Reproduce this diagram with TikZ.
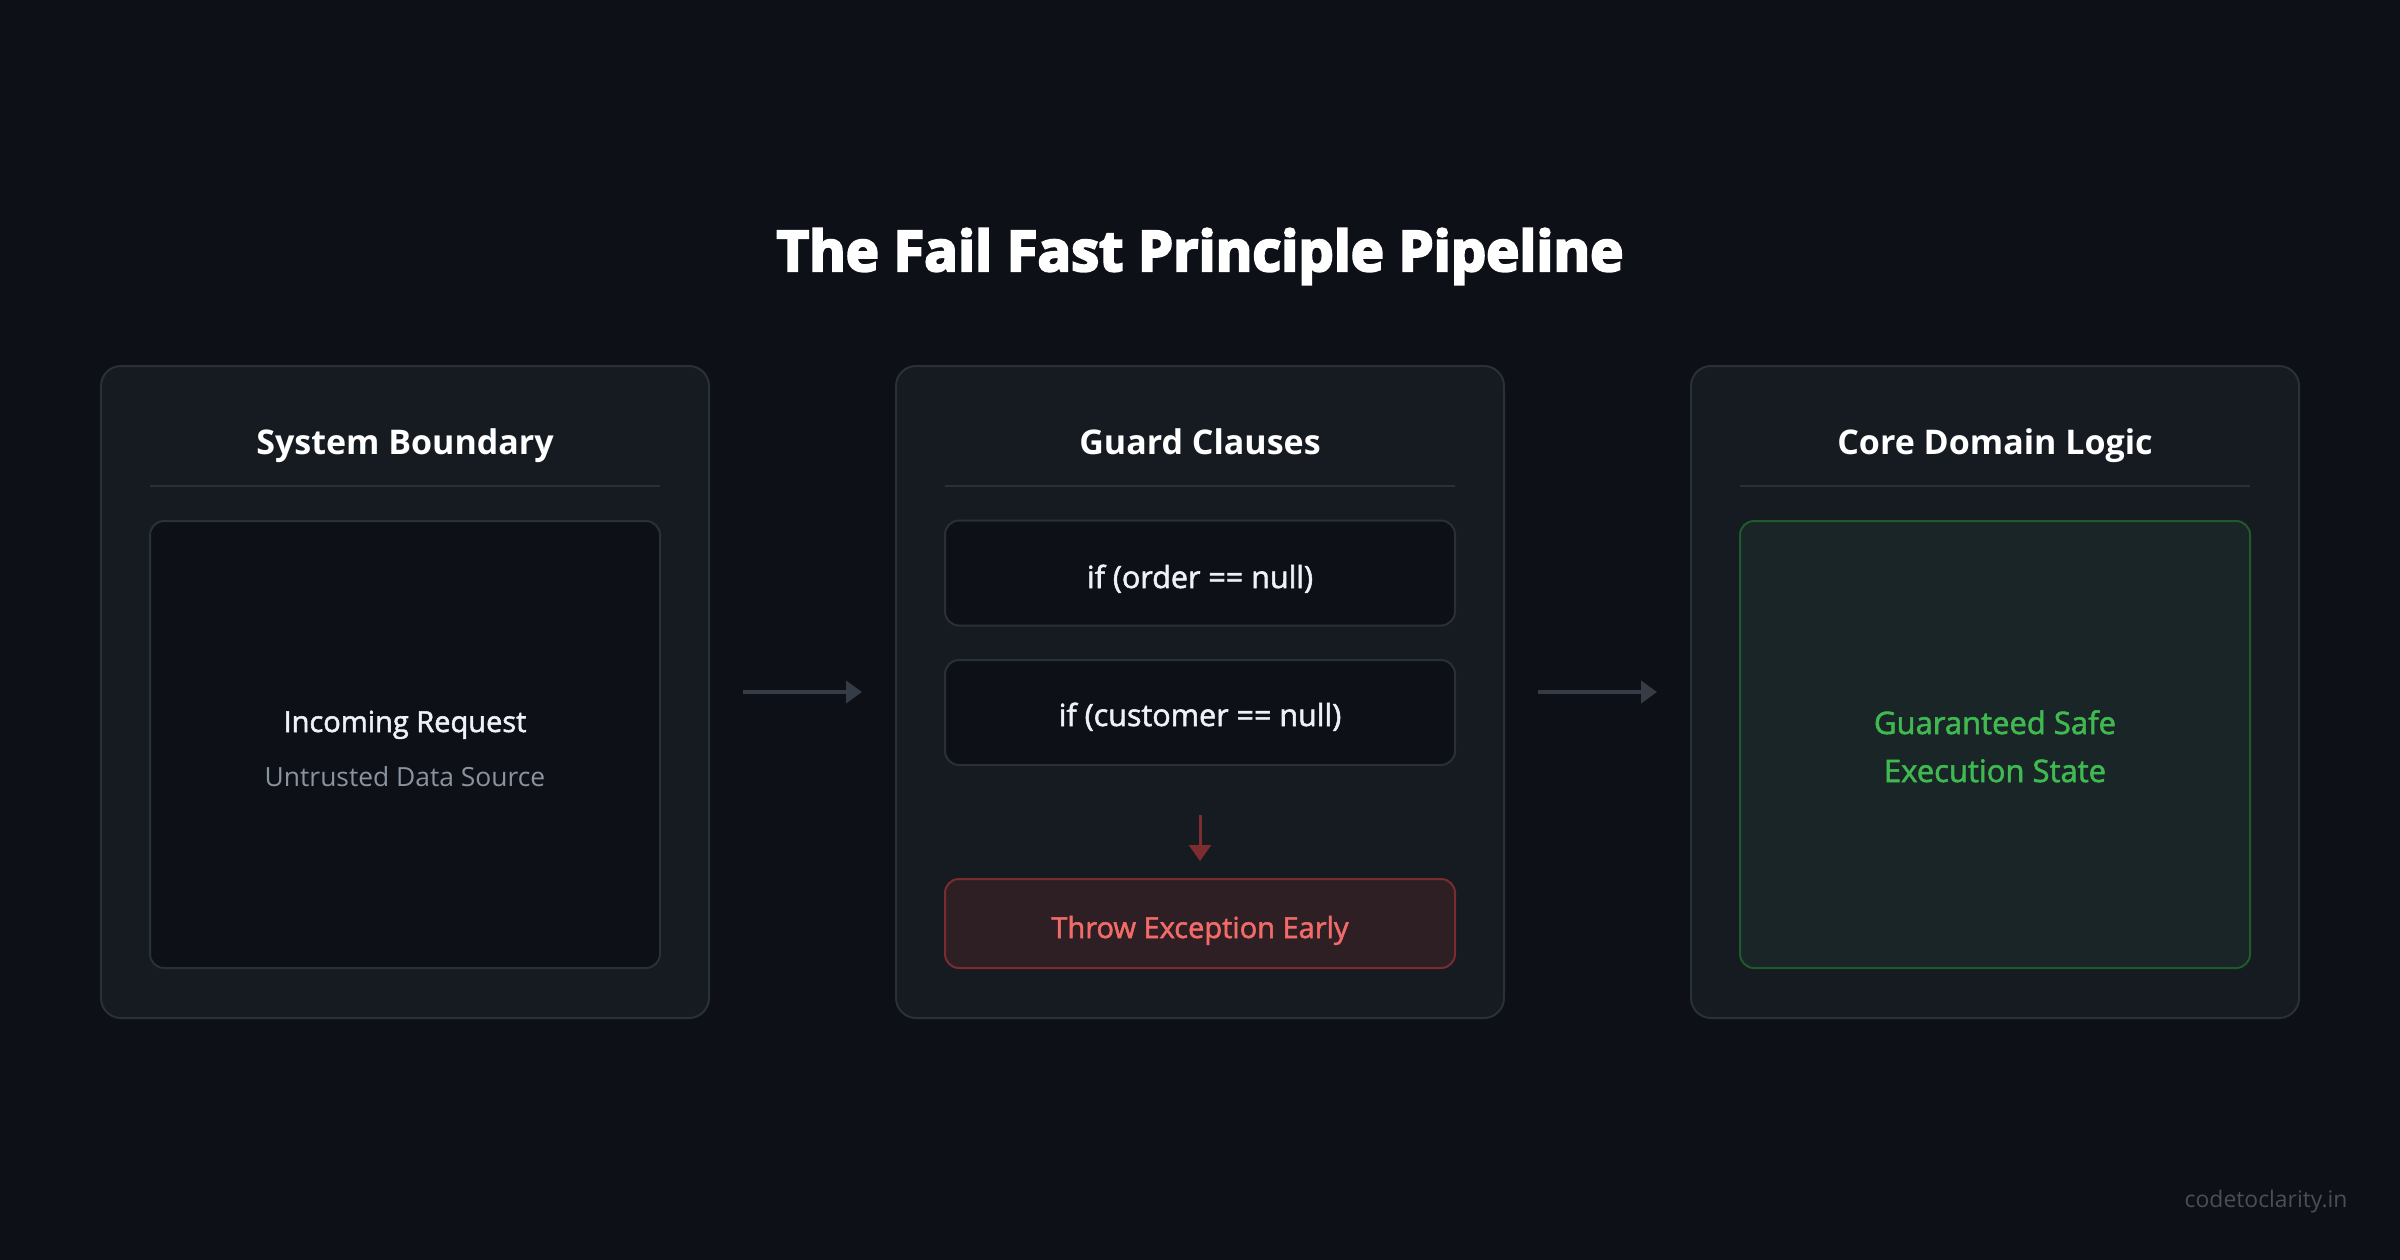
\documentclass[tikz,border=0pt]{standalone}
\usepackage{fontspec}
\setmainfont{Open Sans}
\newfontfamily\heavyfont[FakeBold=4]{Open Sans}
\newfontfamily\semifont[FakeBold=1.8]{Open Sans}
\usetikzlibrary{arrows.meta}

\definecolor{bgdark}{HTML}{0D1117}
\definecolor{panelfill}{HTML}{161B22}
\definecolor{panelline}{HTML}{2A3038}
\definecolor{boxfill}{HTML}{0D1017}
\definecolor{textlight}{HTML}{EEF2F6}
\definecolor{subgray}{HTML}{8B949E}
\definecolor{arrowgray}{HTML}{363C45}
\definecolor{failtext}{HTML}{F26B68}
\definecolor{failfill}{HTML}{2E1F25}
\definecolor{failline}{HTML}{7A2C2E}
\definecolor{failarrow}{HTML}{7D2D2D}
\definecolor{safefill}{HTML}{1A2528}
\definecolor{safeline}{HTML}{1F5A2C}
\definecolor{safetext}{HTML}{3FB950}
\definecolor{marktext}{HTML}{484F58}

\tikzset{
	panel/.style={draw=panelline, line width=2pt, fill=panelfill, rounded corners=20pt,
		minimum width=608pt, minimum height=652pt, inner sep=0pt},
	innerbox/.style={draw=panelline, line width=2pt, fill=boxfill, rounded corners=14pt,
		minimum width=510pt, inner sep=0pt},
	failbox/.style={innerbox, draw=failline, fill=failfill},
	safebox/.style={innerbox, draw=safeline, fill=safefill},
	header/.style={anchor=base, font=\bfseries\fontsize{34}{40}\selectfont, text=white},
	bodytext/.style={anchor=base, font=\semifont\fontsize{30.5}{48}\selectfont, text=textlight, align=center},
	divider/.style={draw=panelline, line width=2pt},
	flow/.style={draw=arrowgray, line width=4pt, -{Triangle[length=16pt, width=22pt]}},
	failflow/.style={draw=failarrow, line width=3pt, -{Triangle[length=16pt, width=22pt]}}
}

\begin{document}
\begin{tikzpicture}[x=1pt, y=-1pt]
				\useasboundingbox[fill=bgdark] (0,0) rectangle (2400,1260);
				\node (title) [anchor=base, font=\heavyfont\bfseries\fontsize{56}{66}\selectfont, text=white] at (1200,271) {The Fail Fast Principle Pipeline};
				%
				\node (sysbound) [panel] at (405,692) {};
				\node (guards) [panel] at (1200,692) {};
				\node (coredom) [panel] at (1995,692) {};
				%
				\node (sysbound head) [header] at (405,454) {System Boundary};
				\node (guards head) [header] at (1200,454) {Guard Clauses};
				\node (coredom head) [header] at (1995,454) {Core Domain Logic};
				\foreach \p in {sysbound, guards, coredom}
					\draw[divider] ([shift={(50,121)}]\p.north west) -- ([shift={(-50,121)}]\p.north east);
				%
				\node (request) [innerbox, minimum height=447pt] at (405,744.5) {};
				\node (req title) [bodytext, font=\semifont\fontsize{29}{34}\selectfont] at (405,732) {Incoming Request};
				\node (req sub) [anchor=base, font=\fontsize{26.4}{32}\selectfont, text=subgray] at (405,786) {Untrusted Data Source};
				%
				\node (order) [innerbox, minimum height=105pt] at (1200,573) {};
				\node (order text) [bodytext] at (1200,588) {if (order == null)};
				\node (customer) [innerbox, minimum height=105pt] at (1200,712.5) {};
				\node (customer text) [bodytext] at (1200,726) {if (customer == null)};
				\node (throw) [failbox, minimum height=89pt] at (1200,923.5) {};
				\node (throw text) [bodytext, text=failtext, font=\semifont\fontsize{29}{34}\selectfont] at (1200,938) {Throw Exception Early};
				\draw[failflow] (customer.south) ++(0,49) coordinate (fail start) -- ([yshift=17]throw.north);
				%
				\node (safe) [safebox, minimum height=447pt] at (1995,744.5) {};
				\node (safe text) [bodytext, text=safetext, font=\semifont\fontsize{31}{48}\selectfont] at (1995,782) {Guaranteed Safe\\Execution State};
				%
				\draw[flow, shorten <=33pt, shorten >=33pt] (sysbound.east) -- (guards.west);
				\draw[flow, shorten <=33pt, shorten >=33pt] (guards.east) -- (coredom.west);
				%
				\node (mark) [anchor=base east, font=\fontsize{22.9}{26}\selectfont, text=marktext] at (2351,1207) {codetoclarity.in};
			\end{tikzpicture}
\end{document}
